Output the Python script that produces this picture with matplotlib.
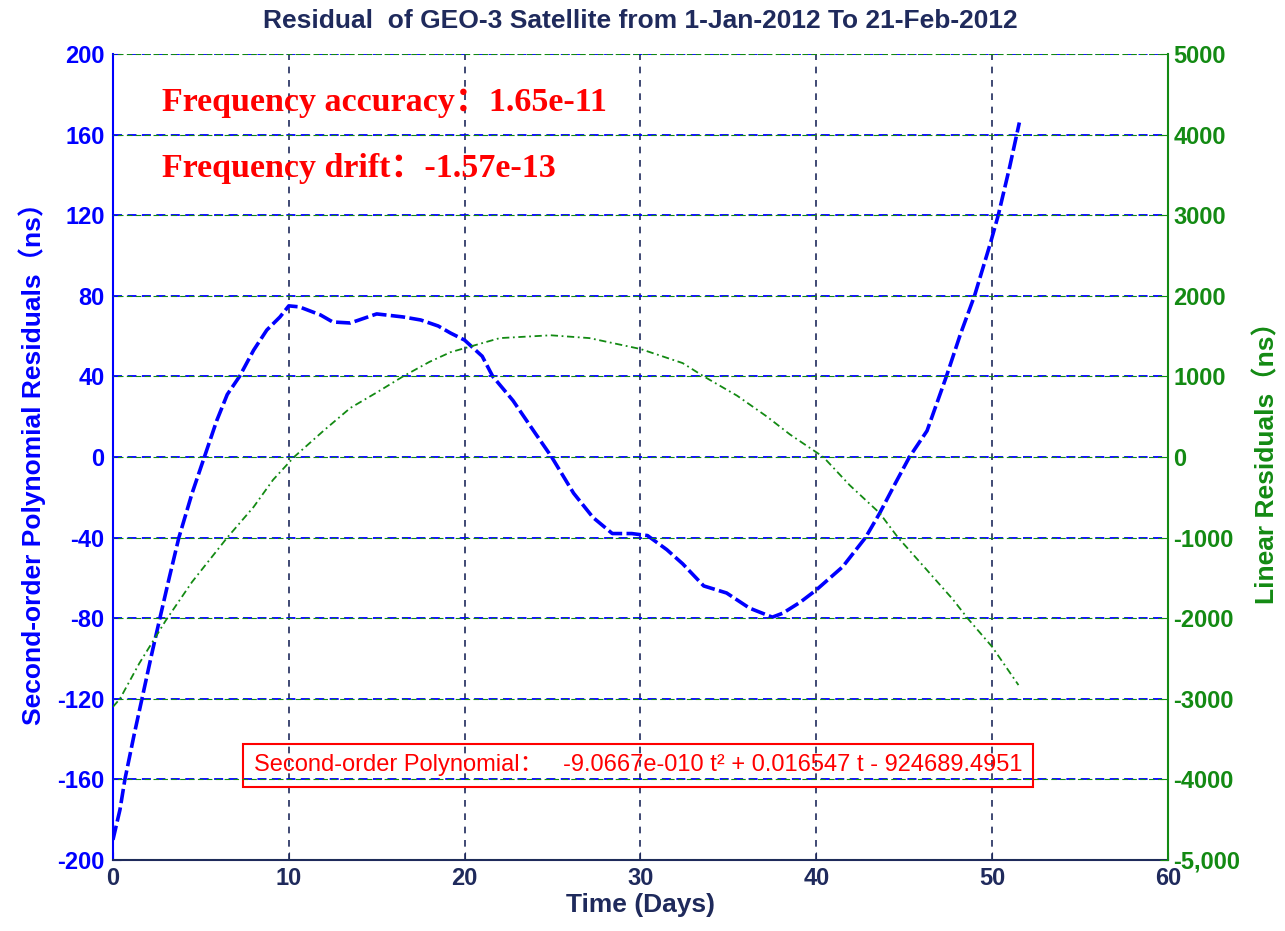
import matplotlib
matplotlib.use("Agg")
import matplotlib.pyplot as plt

# datos (dias, ns)
dias_poli = [0.0, 0.4, 0.68, 1.2, 1.65, 2.2, 2.67, 3.2, 3.75, 4.5, 5.2, 5.9, 6.5, 7.2,
             8.0, 8.75, 9.5, 10.0, 10.6, 11.8, 12.5, 13.5, 15.0, 16.5, 17.5, 18.5, 19.2,
             20.0, 21.0, 21.6, 22.75, 24.0, 24.95, 26.2, 27.3, 28.4, 29.5, 30.4, 31.5,
             32.4, 33.6, 34.9, 36.2, 37.5, 38.1, 39.1, 40.0, 41.5, 42.8, 43.6, 44.5,
             45.3, 46.3, 47.4, 48.2, 49.0, 49.9, 50.35, 51.0, 51.4, 51.55]
res_poli = [-190, -175, -160, -138, -120, -98, -80, -60, -40, -18, 0, 18, 31, 40,
            53, 63, 69.5, 75, 74.5, 70.5, 67, 66.5, 71, 69.5, 68, 65, 61.5,
            58, 50, 40, 28, 12, 0, -18, -30, -38, -38, -39, -46,
            -53, -64, -67.5, -75, -79.5, -77.5, -72, -66, -54.5, -40, -28, -13,
            0, 13, 40, 61, 80, 106, 120, 144, 160, 166]

dias_lin = [0.0, 0.4, 1.5, 3.0, 4.5, 6.5, 8.0, 9.1, 10.3, 12.0, 13.5, 15.0, 16.5, 18.0,
            19.2, 20.0, 22.0, 24.9, 27.1, 30.0, 32.4, 33.6, 35.5, 37.2, 38.5, 40.4,
            41.9, 43.6, 44.65, 46.2, 47.8, 48.6, 50.0, 51.5]
res_lin = [-3100, -3000, -2560, -2030, -1550, -1000, -620, -285, 0, 330, 608, 800, 1000, 1180,
           1300, 1350, 1475, 1510, 1475, 1340, 1165, 1000, 760, 500, 280, 0,
           -350, -695, -1000, -1380, -1775, -2000, -2355, -2830]

ticks_izq = [-200, -160, -120, -80, -40, 0, 40, 80, 120, 160, 200]
ticks_der = [-5000, -4000, -3000, -2000, -1000, 0, 1000, 2000, 3000, 4000, 5000]
etiquetas_der = ["-5,000", "-4000", "-3000", "-2000", "-1000", "0", "1000", "2000", "3000", "4000", "5000"]
ticks_x = [0, 10, 20, 30, 40, 50, 60]

azul = "#0000ff"
verde = "#138a13"
marino = "#1f2a5c"
rojo = "#ff0000"
sans = ["Liberation Sans", "Noto Sans CJK SC"]
serif = ["Liberation Serif", "Noto Sans CJK SC"]

plt.rcParams["font.family"] = sans
plt.rcParams["axes.unicode_minus"] = False

fig = plt.figure(figsize=(12.85, 9.31), dpi=100)
ax1 = fig.add_axes([0.0879, 0.0763, 0.8210, 0.8657])
ax2 = ax1.twinx()

ax1.plot(dias_poli, res_poli, color=azul, lw=2.6, ls=(0, (4, 1.2)))
ax2.plot(dias_lin, res_lin, color=verde, lw=1.3, ls=(0, (4, 2, 1, 2)))

ax1.set_xlim(0, 60)
ax1.set_ylim(-200, 200)
ax2.set_ylim(-5000, 5000)
ax1.set_xticks(ticks_x)
ax1.set_yticks(ticks_izq)
ax2.set_yticks(ticks_der)
ax2.set_yticklabels(etiquetas_der)

ax1.grid(axis="x", color=marino, ls=(0, (4, 4)), lw=1.2)
ax1.grid(axis="y", color=azul, ls=(0, (5, 3)), lw=1.3)
ax2.grid(axis="y", color=verde, ls=(4, (5, 3)), lw=0.8)

for ax in (ax1, ax2):
    ax.spines["top"].set_visible(False)
ax1.spines["left"].set_color(azul)
ax1.spines["left"].set_linewidth(1.5)
ax1.spines["bottom"].set_color(marino)
ax1.spines["bottom"].set_linewidth(1.5)
ax1.spines["right"].set_visible(False)
ax2.spines["left"].set_visible(False)
ax2.spines["bottom"].set_visible(False)
ax2.spines["right"].set_color(verde)
ax2.spines["right"].set_linewidth(1.5)

ax1.tick_params(axis="x", direction="in", length=6, colors=marino, labelsize=17, pad=5)
ax1.tick_params(axis="y", direction="in", length=6, colors=azul, labelsize=17, pad=6)
ax2.tick_params(axis="y", direction="in", length=6, colors=verde, labelsize=17, pad=4)
for lab in ax1.get_xticklabels() + ax1.get_yticklabels() + ax2.get_yticklabels():
    lab.set_fontweight("bold")

ax1.set_xlabel("Time (Days)", color=marino, fontsize=19, fontweight="bold", labelpad=2)
ax1.set_ylabel("Second-order Polynomial Residuals（ns）", color=azul, fontsize=19,
               fontweight="bold", labelpad=8)
ax2.set_ylabel("Linear Residuals（ns）", color=verde, fontsize=19, fontweight="bold", labelpad=10)

fig.text(0.498, 0.977, "Residual  of GEO-3 Satellite from 1-Jan-2012 To 21-Feb-2012",
         ha="center", va="center", color=marino, fontsize=19, fontweight="bold")

ax1.text(2.79, 176, "Frequency accuracy：1.65e-11", color=rojo, fontsize=24.5,
         fontweight="bold", family=serif, va="center")
ax1.text(2.79, 143, "Frequency drift：-1.57e-13", color=rojo, fontsize=24.5,
         fontweight="bold", family=serif, va="center")

ax1.text(8.0, -153, "Second-order Polynomial：   -9.0667e-010 t² + 0.016547 t - 924689.4951",
         color=rojo, fontsize=17, va="center",
         bbox=dict(boxstyle="square,pad=0.45", facecolor="none", edgecolor=rojo, lw=1.5))

fig.savefig("out.png", dpi=100)
